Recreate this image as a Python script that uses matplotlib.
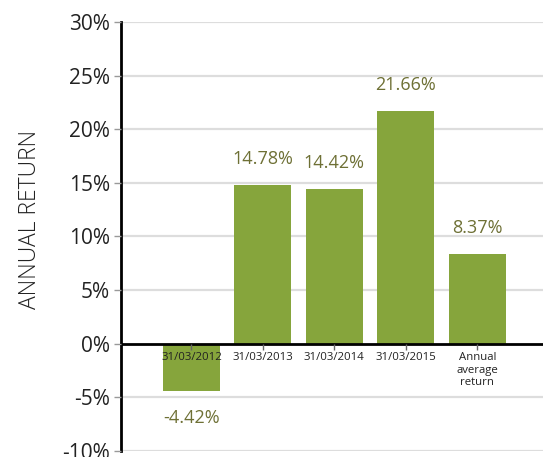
import matplotlib.pyplot as plt
from matplotlib.ticker import FuncFormatter

# dados
categories = ["31/03/2012", "31/03/2013", "31/03/2014", "31/03/2015", "Annual\naverage\nreturn"]
returns = [-4.42, 14.78, 14.42, 21.66, 8.37]
y_ticks = [-10, -5, 0, 5, 10, 15, 20, 25, 30]

BAR_COLOR = "#86a53c"
LABEL_COLOR = "#6e7035"
TEXT_COLOR = "#222222"

plt.rcParams['font.family'] = ['Open Sans', 'DejaVu Sans']

fig = plt.figure(figsize=(5.43, 4.57), dpi=100)
ax = fig.add_axes([0.2228, 0.0131, 0.7772, 0.9388])

x = list(range(len(categories)))
ax.bar(x, returns, width=0.8, color=BAR_COLOR, zorder=1)

# linhas de grade por baixo das barras
for t in y_ticks:
    if t != 0:
        ax.axhline(t, color='#dddddd', linewidth=1.6, zorder=0)

ax.set_axisbelow(False)
ax.set_ylim(-10, 30)
ax.set_xlim(-0.986, 4.92)
ax.set_yticks(y_ticks)
ax.yaxis.set_major_formatter(FuncFormatter(lambda v, p: f"{v:.0f}%"))
ax.tick_params(axis='y', labelsize=15, colors='#999999', labelcolor=TEXT_COLOR,
               length=5, width=1, pad=3)

ax.set_xticks(x)
ax.set_xticklabels(categories)
ax.tick_params(axis='x', direction='out', length=4, width=1, colors='#666666',
               labelcolor=TEXT_COLOR, labelsize=8.2, pad=2)

for s in ['top', 'right']:
    ax.spines[s].set_visible(False)
ax.spines['bottom'].set_position(('data', 0))
ax.spines['bottom'].set_linewidth(2)
ax.spines['left'].set_linewidth(2)

# rótulos de valor
for xi, v in zip(x, returns):
    off = 19 if v >= 0 else -19
    ax.annotate(f"{v:.2f}%", (xi, v), xytext=(0, off), textcoords='offset points',
                ha='center', va='center', fontsize=13, color=LABEL_COLOR)

fig.text(0.055, 0.52, "ANNUAL RETURN", rotation=90, ha='center', va='center',
         fontsize=16.5, color=TEXT_COLOR, fontweight='light')

fig.savefig("out.png", dpi=100)
